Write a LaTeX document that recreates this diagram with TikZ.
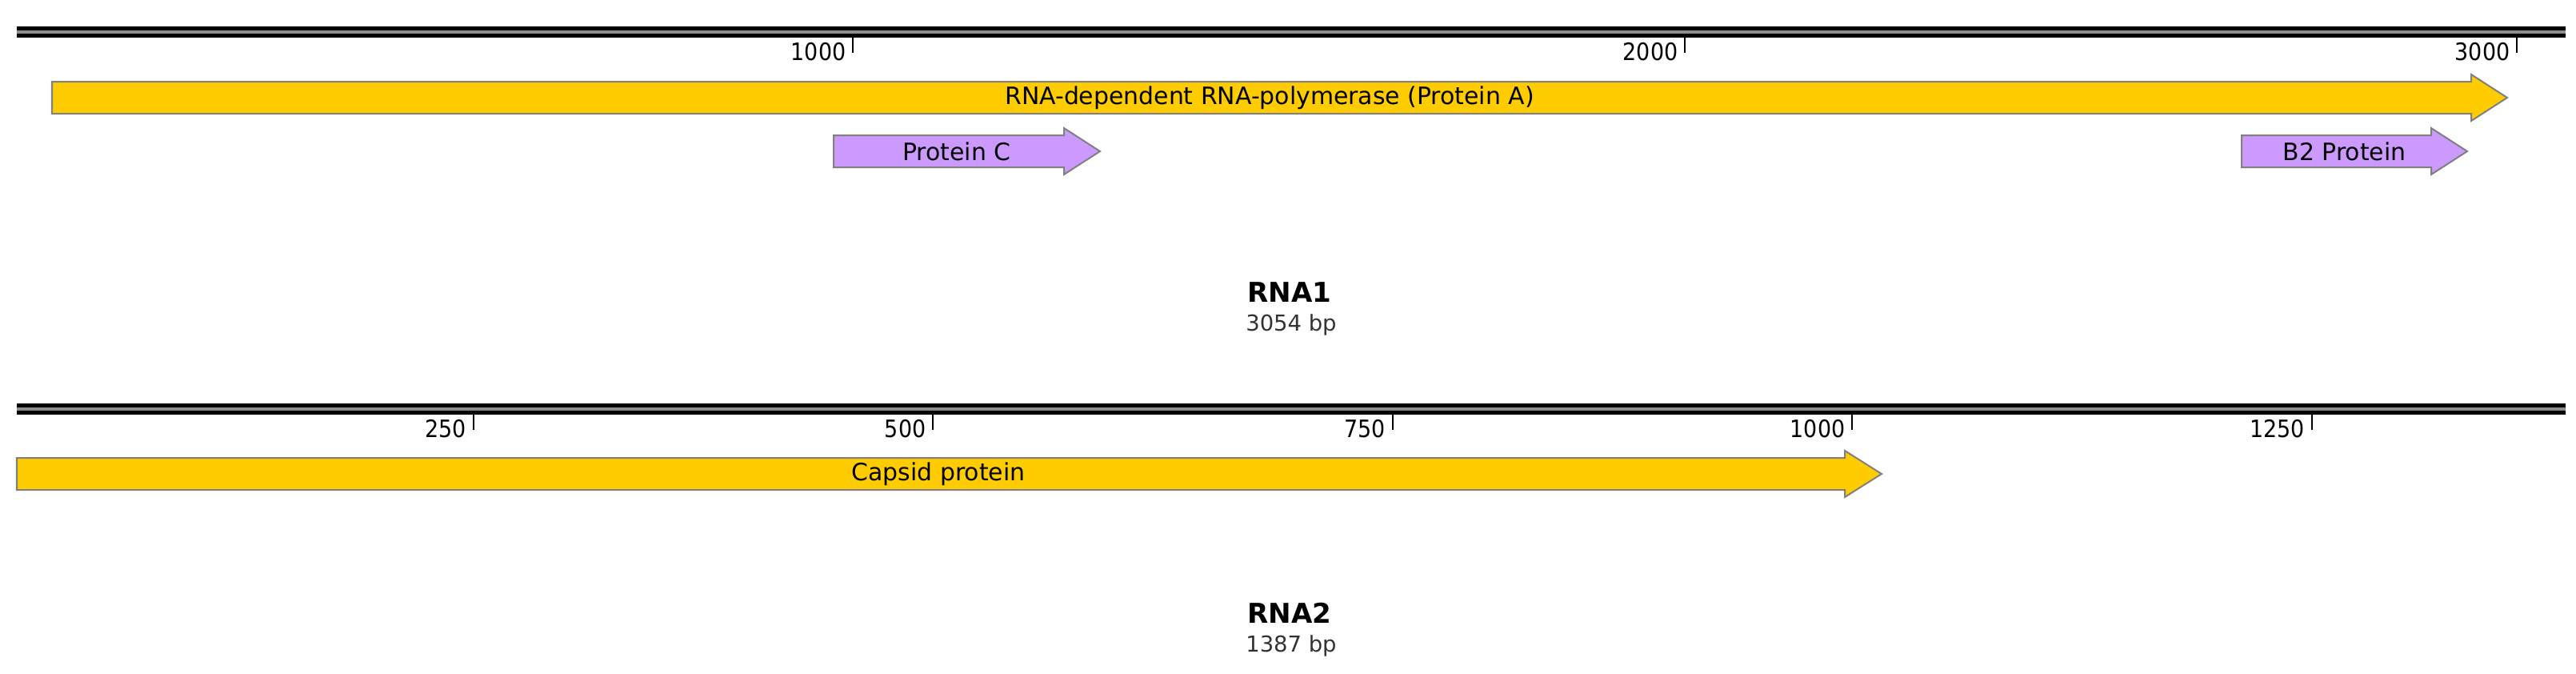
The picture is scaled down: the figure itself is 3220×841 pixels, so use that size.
\documentclass[tikz,border=0pt]{standalone}
\usepackage{fontspec}
\setmainfont{DejaVu Sans}
\newfontfamily\condfont{DejaVu Sans Condensed}
\usetikzlibrary{positioning}
\definecolor{orfyellow}{RGB}{255,204,0}
\definecolor{orfpurple}{RGB}{204,153,255}
\tikzset{
    seqline/.style={draw=black, line width=0.055cm, double=black!45, double distance=0.035cm},
    scaletick/.style={draw=black, line width=0.02cm},
    ticklabel/.style={anchor=base east, inner sep=0pt, font=\condfont\fontsize{8.5}{10}\selectfont},
    orf/.style={draw=black!50, line width=0.02cm, line join=miter},
    orflabel/.style={inner sep=0pt, font=\fontsize{8.5}{10}\selectfont},
    seqname/.style={anchor=base, inner sep=0pt, font=\bfseries\fontsize{9.7}{11}\selectfont},
    seqsize/.style={anchor=base, inner sep=0pt, text=black!80, font=\fontsize{7.8}{9}\selectfont}
}

\begin{document}
\begin{tikzpicture}[x=0.01cm, y=-0.01cm]
    \fill[white] (0,0) rectangle (3220,841);
    \useasboundingbox (0,0) rectangle (3220,841);

    % RNA1
    \draw[seqline] (21,40) -- (3207,40);
    \foreach \t in {1000,2000,3000}{
        \draw[scaletick] ({26+1.04*\t},47) -- ({26+1.04*\t},66);
        \node[ticklabel] (rnaonetick\t) at ({26+1.04*\t-8},75) {\t};
    }
    \foreach \xa/\xb/\yc/\col/\nm/\lbl in {65/3089/122/orfyellow/protA/{RNA-dependent RNA-polymerase (Protein A)},
        1042/1330/189/orfpurple/protC/{Protein C}, 2802/3039/189/orfpurple/protB/{B2 Protein}}{
        \draw[orf, fill=\col] (\xa,\yc-20) -- (\xb,\yc-20) -- (\xb,\yc-29) -- (\xb+45,\yc)
            -- (\xb,\yc+29) -- (\xb,\yc+20) -- (\xa,\yc+20) -- cycle;
        \node[orflabel] (\nm) at ({(\xa+\xb)/2+10},\yc) {\lbl};
    }
    \node[seqname] (rnaone) at (1612,377) {RNA1};
    \node[seqsize] (rnaonebp) at (1614,413) {3054 bp};

    % RNA2
    \draw[seqline] (21,511) -- (3207,511);
    \foreach \t in {250,500,750,1000,1250}{
        \draw[scaletick] ({17+2.298*\t},518) -- ({17+2.298*\t},537);
        \node[ticklabel] (rnatwotick\t) at ({17+2.298*\t-8},546) {\t};
    }
    \draw[orf, fill=orfyellow] (21,572) -- (2306,572) -- (2306,563) -- (2352,592)
        -- (2306,621) -- (2306,612) -- (21,612) -- cycle;
    \node[orflabel] (capsid) at (1173,592) {Capsid protein};
    \node[seqname] (rnatwo) at (1612,778) {RNA2};
    \node[seqsize] (rnatwobp) at (1614,814) {1387 bp};
\end{tikzpicture}
\end{document}
